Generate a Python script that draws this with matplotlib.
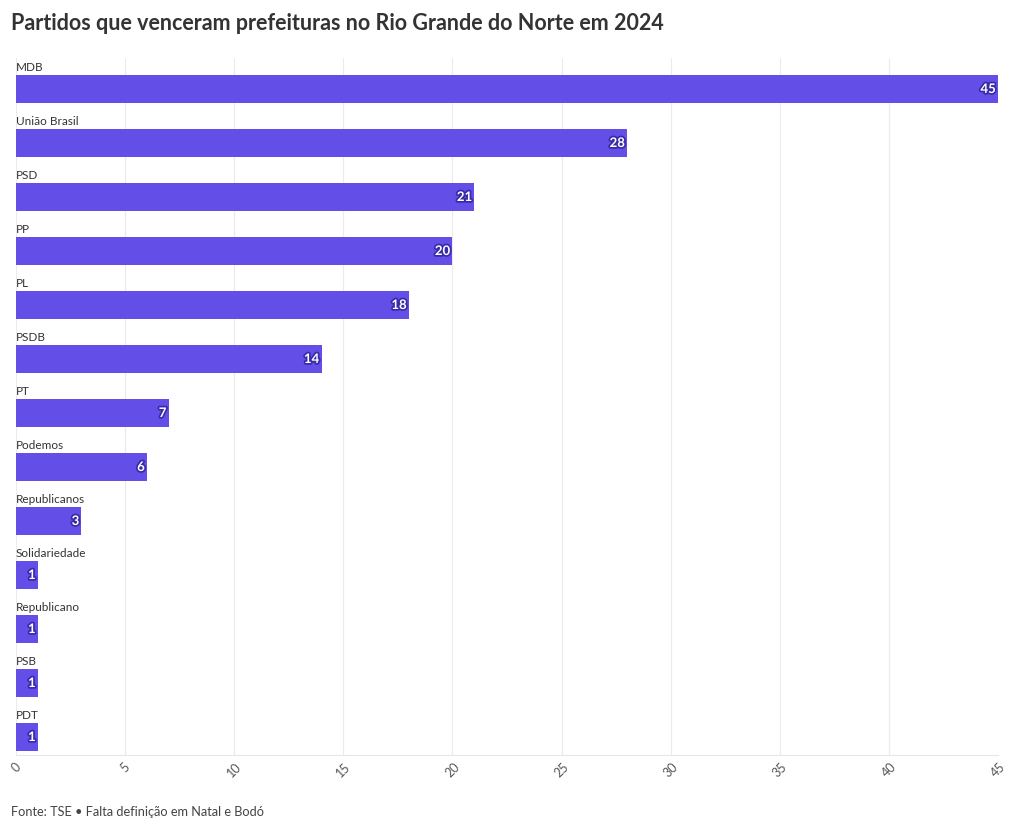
import matplotlib
matplotlib.use("Agg")
import matplotlib.pyplot as plt
import matplotlib.patheffects as pe
import numpy as np

partidos = ["MDB", "União Brasil", "PSD", "PP", "PL", "PSDB", "PT", "Podemos",
            "Republicanos", "Solidariedade", "Republicano", "PSB", "PDT"]
prefeituras = [45, 28, 21, 20, 18, 14, 7, 6, 3, 1, 1, 1, 1]
xticks = [0, 5, 10, 15, 20, 25, 30, 35, 40, 45]

plt.rcParams['font.family'] = ['Lato', 'DejaVu Sans']

fig = plt.figure(figsize=(10.2, 8.31), dpi=100)
ax = fig.add_axes([16/1020, 1-755/831, (998-16)/1020, (755-58)/831])

cor = '#634FE8'
y = np.arange(len(partidos))
ax.barh(y, prefeituras, height=0.52, color=cor, zorder=2)

for i, (p, v) in enumerate(zip(partidos, prefeituras)):
    ax.text(0, i - 0.30, p, ha='left', va='bottom', fontsize=8.5, color='#333333')
    t = ax.text(v - 0.1, i, str(v), ha='right', va='center', fontsize=9.5,
                fontweight='bold', color='white', zorder=3)
    t.set_path_effects([pe.withStroke(linewidth=2.5, foreground='#3a2aa8')])

ax.set_xlim(0, 45)
ax.set_ylim(12 + 0.333, -0.574)
ax.set_xticks(xticks)
ax.set_xticklabels([str(x) for x in xticks], rotation=45, fontsize=9, color='#555555')
ax.set_yticks([])
ax.grid(axis='x', color='#ebebeb', linewidth=0.8, zorder=0)
for s in ['top', 'right', 'left']:
    ax.spines[s].set_visible(False)
ax.spines['bottom'].set_color('#e6e6e6')
ax.tick_params(axis='x', length=0, pad=4)

fig.text(11/1020, 1-24/831, "Partidos que venceram prefeituras no Rio Grande do Norte em 2024",
         fontsize=15.5, fontweight='bold', color='#333333', va='center', ha='left')
fig.text(11/1020, 1-812/831, "Fonte: TSE • Falta definição em Natal e Bodó",
         fontsize=9.2, color='#444444', va='center', ha='left')

fig.savefig("out.png", dpi=100)
